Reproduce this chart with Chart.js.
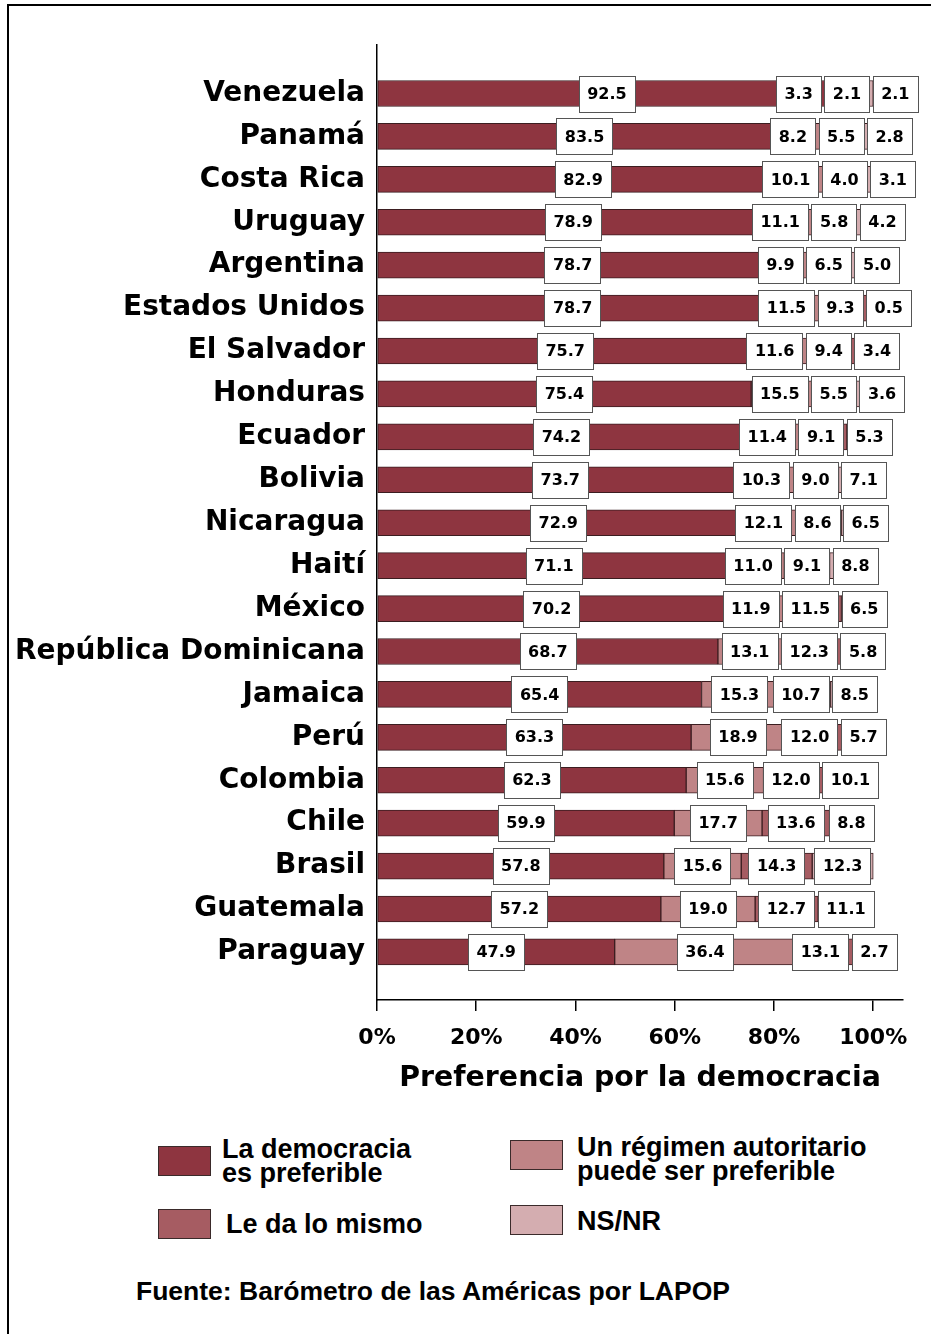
<!DOCTYPE html>
<html>
<head>
<meta charset="utf-8">
<script src="https://cdn.jsdelivr.net/npm/chart.js@4.4.0/dist/chart.umd.min.js"></script>
<style>
  html, body { margin:0; padding:0; background:#fff; width:931px; height:1334px; overflow:hidden; }
  #frame { position:absolute; left:7px; top:4px; width:1000px; height:1400px; border:2px solid #000; box-sizing:border-box; }
  #wrap { position:absolute; left:0; top:0; width:931px; height:1096px; }
  .lg { position:absolute; font-family:"Liberation Sans", Arial, sans-serif; font-weight:bold; font-size:27px; line-height:24px; color:#000; white-space:nowrap; }
  .sw { position:absolute; width:53px; height:30px; border:1px solid #3a2a2a; box-sizing:border-box; }
</style>
</head>
<body>
<div id="frame"></div>
<div id="wrap"><canvas id="c"></canvas></div>

<div class="sw" style="left:158px; top:1146px; background:#8e3540;"></div>
<div class="lg" style="left:222px; top:1137px;">La democracia<br>es preferible</div>
<div class="sw" style="left:158px; top:1209px; background:#a65c62;"></div>
<div class="lg" style="left:226px; top:1212px;">Le da lo mismo</div>
<div class="sw" style="left:510px; top:1140px; background:#bf8486;"></div>
<div class="lg" style="left:577px; top:1135px;">Un régimen autoritario<br>puede ser preferible</div>
<div class="sw" style="left:510px; top:1205px; background:#d4adb0;"></div>
<div class="lg" style="left:577px; top:1209px;">NS/NR</div>
<div class="lg" style="left:136px; top:1279px; font-size:26.5px;">Fuente: Barómetro de las Américas por LAPOP</div>

<script>
const countries = ["Venezuela","Panamá","Costa Rica","Uruguay","Argentina","Estados Unidos","El Salvador","Honduras","Ecuador","Bolivia","Nicaragua","Haití","México","República Dominicana","Jamaica","Perú","Colombia","Chile","Brasil","Guatemala","Paraguay"];
const democracia = [92.5,83.5,82.9,78.9,78.7,78.7,75.7,75.4,74.2,73.7,72.9,71.1,70.2,68.7,65.4,63.3,62.3,59.9,57.8,57.2,47.9];
const autoritario = [3.3,8.2,10.1,11.1,9.9,11.5,11.6,15.5,11.4,10.3,12.1,11.0,11.9,13.1,15.3,18.9,15.6,17.7,15.6,19.0,36.4];
const loMismo = [2.1,5.5,4.0,5.8,6.5,9.3,9.4,5.5,9.1,9.0,8.6,9.1,11.5,12.3,10.7,12.0,12.0,13.6,14.3,12.7,13.1];
const nsnr = [2.1,2.8,3.1,4.2,5.0,0.5,3.4,3.6,5.3,7.1,6.5,8.8,6.5,5.8,8.5,5.7,10.1,8.8,12.3,11.1,2.7];
const xTicks = [0,20,40,60,80,100];

const seriesNames = ["La democracia es preferible","Un régimen autoritario puede ser preferible","Le da lo mismo","NS/NR"];
const seriesValues = [democracia, autoritario, loMismo, nsnr];
const seriesColors = ["#8e3540","#bf8486","#a65c62","#d4adb0"];

const BIG = '"DejaVu Sans", Verdana, sans-serif';

const boxLabels = {
  id: 'boxLabels',
  afterDatasetsDraw(chart) {
    const ctx = chart.ctx;
    ctx.save();
    ctx.font = 'bold 16px ' + BIG;
    const limit = chart.chartArea.right + 15;
    const gap = 3;
    for (let i = 0; i < countries.length; i++) {
      const boxes = [];
      chart.data.datasets.forEach((ds, d) => {
        const el = chart.getDatasetMeta(d).data[i];
        const txt = seriesValues[d][i].toFixed(1);
        const w = ctx.measureText(txt).width + 17;
        boxes.push({ c: (el.x + el.base) / 2, w, txt, y: el.y });
      });
      for (let it = 0; it < 200; it++) {
        let moved = false;
        for (let k = 0; k < boxes.length - 1; k++) {
          const a = boxes[k], b = boxes[k + 1];
          const need = a.w / 2 + b.w / 2 + gap;
          const have = b.c - a.c;
          if (have < need - 0.01) { const dd = (need - have) / 2; a.c -= dd; b.c += dd; moved = true; }
        }
        const last = boxes[boxes.length - 1];
        if (last.c + last.w / 2 > limit) { last.c = limit - last.w / 2; moved = true; }
        if (!moved) break;
      }
      for (let k = boxes.length - 2; k >= 0; k--) {
        const a = boxes[k], b = boxes[k + 1];
        const need = a.w / 2 + b.w / 2 + gap;
        if (b.c - a.c < need) a.c = b.c - need;
      }
      boxes.forEach(bx => {
        const h = 36;
        const x0 = Math.round(bx.c - bx.w / 2) + 0.5, y0 = Math.round(bx.y - h / 2) + 0.5;
        ctx.fillStyle = '#ffffff';
        ctx.fillRect(x0, y0, Math.round(bx.w), h);
        ctx.strokeStyle = '#555';
        ctx.lineWidth = 1;
        ctx.strokeRect(x0, y0, Math.round(bx.w), h);
        ctx.fillStyle = '#000';
        ctx.textAlign = 'center';
        ctx.textBaseline = 'middle';
        ctx.fillText(bx.txt, bx.c, bx.y + 1);
      });
    }
    ctx.restore();
  }
};

const datasets = seriesValues.map((vals, d) => ({
  label: seriesNames[d],
  data: vals.map((v, i) => ({ x: v, y: i })),
  backgroundColor: seriesColors[d],
  borderColor: '#3b1d20',
  borderWidth: 1,
  borderSkipped: false,
  barThickness: 26
}));

new Chart(document.getElementById('c'), {
  type: 'bar',
  data: { datasets },
  plugins: [boxLabels],
  options: {
    indexAxis: 'y',
    responsive: true,
    maintainAspectRatio: false,
    animation: false,
    layout: { padding: { left: 0, top: 45, right: 28, bottom: 0 } },
    plugins: { legend: { display: false }, tooltip: { enabled: false } },
    scales: {
      y: {
        type: 'linear',
        reverse: true,
        stacked: true,
        offset: false,
        min: -1.13,
        max: 21.12,
        afterBuildTicks: (s) => { s.ticks = countries.map((c, i) => ({ value: i })); },
        afterFit: (s) => { s.width = 377; },
        ticks: {
          autoSkip: false,
          padding: 12,
          color: '#000',
          font: { family: BIG, weight: 'bold', size: 28 },
          callback: (v) => countries[v]
        },
        grid: { display: false, drawTicks: false, offset: false },
        border: { display: true, color: '#000', width: 1.5 }
      },
      x: {
        type: 'linear',
        stacked: true,
        min: 0,
        max: 106,
        afterBuildTicks: (s) => { s.ticks = xTicks.map(v => ({ value: v })); },
        afterFit: (s) => { s.height = 96; },
        ticks: {
          padding: 14,
          color: '#000',
          font: { family: BIG, weight: 'bold', size: 22 },
          callback: (v) => v + '%'
        },
        grid: { display: true, drawOnChartArea: false, drawTicks: true, tickLength: 11, color: '#000', lineWidth: 1.5 },
        border: { display: true, color: '#000', width: 1.5 },
        title: {
          display: true,
          text: 'Preferencia por la democracia',
          color: '#000',
          font: { family: BIG, weight: 'bold', size: 28.4 },
          padding: { top: 0, bottom: 0 }
        }
      }
    }
  }
});
</script>
</body>
</html>
